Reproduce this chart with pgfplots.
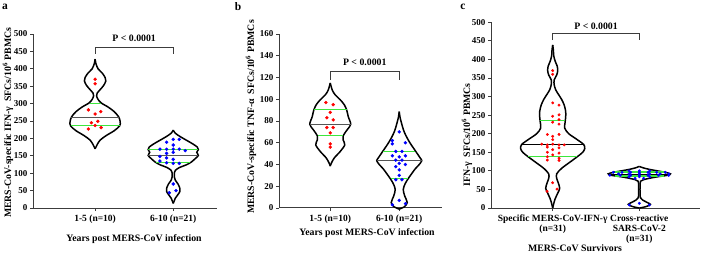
\documentclass[border=0pt]{standalone}
\usepackage{fontspec}
\setmainfont{Liberation Serif}
\usepackage{pgfplots}
\usepackage{pgfplotstable}
\pgfplotsset{compat=1.18}
\definecolor{vgreen}{RGB}{60,230,60}
\definecolor{medgray}{RGB}{85,85,85}
\definecolor{axgray}{RGB}{60,60,60}

\pgfplotsset{
 myaxis/.style={
  scale only axis, axis lines=left,
  axis line style={-, axgray, line width=1pt},
  tick align=outside, major tick length=3pt,
  tick style={axgray, line width=0.9pt},
  ymin=0, clip=false, anchor=south west,
  xtick={1,2},
  /pgf/number format/assume math mode=true,
  yticklabel style={font=\bfseries\fontsize{9}{10}\selectfont, xshift=1pt},
  xticklabel style={font=\bfseries\fontsize{9.5}{10}\selectfont, align=center},
  label style={font=\bfseries\fontsize{9.8}{11}\selectfont},
 },
 vio/.style={black, line width=1.5pt, smooth, no markers},
 medl/.style={medgray, line width=1pt, no markers},
 quartl/.style={vgreen, line width=1.2pt, no markers},
 brk/.style={axgray, line width=0.9pt, no markers},
 reddots/.style={only marks, mark=*, mark size=1.5pt, mark options={draw=red, fill=red}},
 bluedots/.style={only marks, mark=*, mark size=1.5pt, mark options={draw=blue, fill=blue}},
}

% ---------- violin outlines: y, half-width (axis units) ----------
\pgfplotstableread{
y w
428 0
415 0.010
400 0.038
388 0.090
375 0.128
365 0.137
352 0.109
340 0.064
330 0.026
322 0.019
312 0.038
302 0.077
290 0.167
277 0.244
262 0.301
248 0.321
236 0.314
222 0.244
208 0.141
195 0.064
182 0.026
170 0
}\vAone
\pgfplotstableread{
y w
224 0
215 0.026
205 0.090
195 0.167
185 0.244
175 0.308
168 0.321
160 0.301
151 0.321
142 0.282
132 0.231
124 0.167
116 0.077
108 0.026
100 0.013
90 0.013
80 0.026
70 0.058
58 0.083
48 0.086
38 0.058
28 0.026
13 0
}\vAtwo
\pgfplotstableread{
y w
115 0
108.5 0.029
104 0.072
99.5 0.145
95 0.203
90 0.239
84 0.261
77 0.297
72 0.246
66.5 0.188
62.5 0.188
58 0.210
52 0.145
46 0.058
41 0.014
38.5 0
}\vBone
\pgfplotstableread{
y w
88.6 0
84 0.010
79 0.029
70 0.072
61 0.145
52 0.240
46 0.304
43.5 0.326
40 0.290
36 0.232
31 0.174
27 0.130
22.5 0.087
17 0.058
11 0.080
5 0.116
1 0.072
-1 0
}\vBtwo
\pgfplotstableread{
y w
439 0
425 0.008
410 0.012
395 0.029
382 0.052
370 0.058
358 0.046
345 0.017
332 0.017
318 0.035
305 0.069
292 0.104
277 0.133
260 0.150
245 0.150
232 0.144
215 0.139
200 0.185
185 0.277
171 0.358
160 0.370
150 0.346
139 0.289
125 0.208
107 0.104
92 0.046
80 0.046
68 0.064
53 0.081
40 0.058
25 0.029
12 0.012
0 0
}\vCone
\pgfplotstableread{
y w
112 0
108 0.046
104 0.115
100 0.208
96 0.300
92 0.358
88 0.323
84 0.208
80 0.115
76 0.046
72 0.014
60 0.008
40 0.008
28 0.012
22 0.035
16 0.081
10 0.127
5 0.092
2 0.046
0 0
}\vCtwo

% ---------- individual points ----------
\pgfplotstableread{
x y
1.000 370
1.000 357
0.914 282
1.073 277
1.000 270
1.035 249
0.953 245
1.000 237
1.077 231
0.914 227
}\dAone
\pgfplotstableread{
x y
2.000 197
2.077 197
1.915 189
2.000 181
1.830 169
1.915 169
2.000 169
2.077 169
2.154 165
2.000 160
1.915 157
1.830 148
1.915 144
2.000 140
1.830 135
1.915 130
2.000 128
2.077 128
2.000 69
2.035 50
1.950 44
}\dAtwo
\pgfplotstableread{
x y
0.937 97
1.043 95
1.000 88
0.950 83
1.043 81
0.950 74
1.043 74
1.000 69
1.000 59
1.000 56
}\dBone
\pgfplotstableread{
x y
2.000 70
1.900 62
1.900 59
2.090 60
1.950 52
2.040 52
1.900 48
2.000 47
2.090 48
1.950 44
2.040 44
2.000 41
2.090 40
1.950 38
2.000 35
2.000 30
1.950 26
2.040 26
2.000 7
2.090 4
1.900 3
}\dBtwo
\pgfplotstableread{
x y
1.000 370
1.000 360
1.000 283
1.073 277
1.073 251
1.000 247
1.073 238
1.000 231
1.073 226
0.938 198
1.073 198
1.000 193
1.000 184
0.873 172
0.938 170
1.000 172
1.073 170
1.134 170
0.938 164
1.073 162
1.000 157
0.938 150
1.073 148
1.000 143
0.938 138
1.073 134
0.938 129
1.073 128
1.000 68
1.050 51
0.935 45
}\dCone
\pgfplotstableread{
x y
1.88 100
2.00 100
2.12 100
1.70 96
1.80 96
1.90 96
2.00 96
2.10 96
2.20 96
2.30 96
1.76 92
1.88 92
2.00 92
2.12 92
2.24 92
2.34 92
1.66 88
1.78 88
1.90 88
2.00 88
2.10 88
2.22 88
2.34 88
1.88 84
2.00 84
2.12 84
1.95 80
2.05 80
1.885 8
2.000 12.6
2.115 8
}\dCtwo

\begin{document}
\begin{tikzpicture}
\useasboundingbox (0,0) rectangle (702pt,252pt);

% ================= panel a =================
\begin{axis}[myaxis, at={(33pt,44pt)}, width=184pt, height=174pt,
  xmin=0.205, xmax=2.56, ymax=500, ytick={0,50,...,500},
  xticklabels={1-5 (n=10),6-10 (n=21)},
  ylabel={MERS-CoV-specific IFN-γ\enspace SFCs/10\textsuperscript{6} PBMCs},
  ylabel style={at={(axis description cs:-0.136,0.489)}, anchor=center},
  xlabel={Years post MERS-CoV infection},
  xlabel style={at={(axis description cs:0.549,-0.178)}, anchor=center},
]
\addplot[vio] table[x expr=1+\thisrow{w}, y=y]{\vAone};
\addplot[vio] table[x expr=1-\thisrow{w}, y=y]{\vAone};
\addplot[vio] table[x expr=2+\thisrow{w}, y=y]{\vAtwo};
\addplot[vio] table[x expr=2-\thisrow{w}, y=y]{\vAtwo};
\addplot[quartl] coordinates {(0.929,301) (1.071,301)};
\addplot[medl] coordinates {(0.695,261) (1.305,261)};
\addplot[quartl] coordinates {(0.686,236) (1.314,236)};
\addplot[quartl] coordinates {(1.680,169) (2.320,169)};
\addplot[medl] coordinates {(1.680,151) (2.320,151)};
\addplot[quartl] coordinates {(1.780,130) (2.220,130)};
\addplot[reddots] table[x=x,y=y]{\dAone};
\addplot[bluedots] table[x=x,y=y]{\dAtwo};
\addplot[brk] coordinates {(1,443) (1,462) (2,462) (2,443)};
\node[font=\bfseries\fontsize{9.8}{11}\selectfont] at (axis cs:1.5,488) {P < 0.0001};
\end{axis}

% ================= panel b =================
\begin{axis}[myaxis, at={(279pt,44pt)}, width=163pt, height=174pt,
  xmin=0.257, xmax=2.62, ymax=160, ytick={0,20,...,160},
  xticklabels={1-5 (n=10),6-10 (n=21)},
  ylabel={MERS-CoV-specific TNF-α\enspace SFCs/10\textsuperscript{6} PBMCs},
  ylabel style={at={(axis description cs:-0.172,0.523)}, anchor=center},
  xlabel={Years post MERS-CoV infection},
  xlabel style={at={(axis description cs:0.54,-0.144)}, anchor=center},
]
\addplot[vio] table[x expr=1+\thisrow{w}, y=y]{\vBone};
\addplot[vio] table[x expr=1-\thisrow{w}, y=y]{\vBone};
\addplot[vio] table[x expr=2+\thisrow{w}, y=y]{\vBtwo};
\addplot[vio] table[x expr=2-\thisrow{w}, y=y]{\vBtwo};
\addplot[quartl] coordinates {(0.764,90.8) (1.236,90.8)};
\addplot[medl] coordinates {(0.700,77.2) (1.300,77.2)};
\addplot[quartl] coordinates {(0.820,66.5) (1.180,66.5)};
\addplot[quartl] coordinates {(1.770,52) (2.230,52)};
\addplot[medl] coordinates {(1.674,43.5) (2.326,43.5)};
\addplot[quartl] coordinates {(1.880,27.4) (2.120,27.4)};
\addplot[reddots] table[x=x,y=y]{\dBone};
\addplot[bluedots] table[x=x,y=y]{\dBtwo};
\addplot[brk] coordinates {(1,117.7) (1,126) (2,126) (2,117.7)};
\node[font=\bfseries\fontsize{9.8}{11}\selectfont] at (axis cs:1.5,133.6) {P < 0.0001};
\end{axis}

% ================= panel c =================
\begin{axis}[myaxis, at={(491pt,44pt)}, width=209pt, height=185.7pt,
  xmin=0.288, xmax=2.70, ymax=500, ytick={0,50,...,500},
  xticklabels={{Specific MERS-CoV-IFN-γ\\(n=31)},{Cross-reactive\\SARS-CoV-2\\(n=31)}},
  ylabel={IFN-γ\enspace SFCs/10\textsuperscript{6} PBMCs},
  ylabel style={at={(axis description cs:-0.115,0.393)}, anchor=center},
  xlabel={MERS-CoV Survivors},
  xlabel style={at={(axis description cs:0.402,-0.215)}, anchor=center},
  bluedots/.append style={mark size=1.25pt},
  reddots/.append style={mark size=1.25pt},
]
\addplot[vio] table[x expr=1+\thisrow{w}, y=y]{\vCone};
\addplot[vio] table[x expr=1-\thisrow{w}, y=y]{\vCone};
\addplot[vio] table[x expr=2+\thisrow{w}, y=y]{\vCtwo};
\addplot[vio] table[x expr=2-\thisrow{w}, y=y]{\vCtwo};
\addplot[quartl] coordinates {(0.856,236) (1.144,236)};
\addplot[medl, black] coordinates {(0.645,171) (1.355,171)};
\addplot[quartl] coordinates {(0.715,139) (1.285,139)};
\addplot[quartl] coordinates {(1.720,97) (2.280,97)};
\addplot[medl, black] coordinates {(1.650,90) (2.350,90)};
\addplot[quartl] coordinates {(1.720,86) (2.280,86)};
\addplot[reddots] table[x=x,y=y]{\dCone};
\addplot[bluedots] table[x=x,y=y]{\dCtwo};
\addplot[brk] coordinates {(1,452) (1,470) (2,470) (2,452)};
\node[font=\bfseries\fontsize{9.8}{11}\selectfont] at (axis cs:1.5,488) {P < 0.0001};
\end{axis}

\node[font=\bfseries\fontsize{11.5}{12}\selectfont] at (5pt,245pt) {a};
\node[font=\bfseries\fontsize{11.5}{12}\selectfont] at (238pt,245pt) {b};
\node[font=\bfseries\fontsize{11.5}{12}\selectfont] at (463pt,245pt) {c};
\end{tikzpicture}
\end{document}
